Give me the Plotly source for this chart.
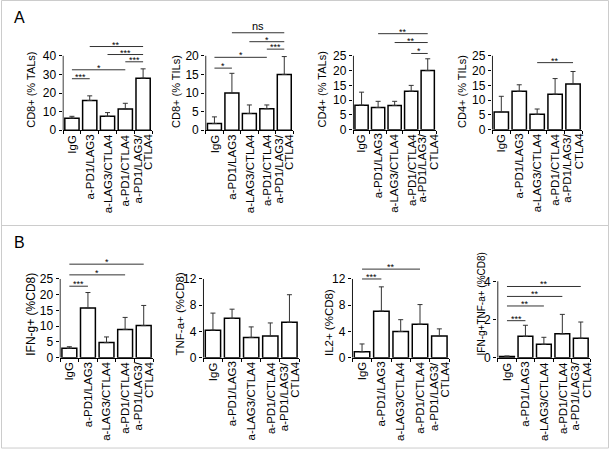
import plotly.graph_objects as go

# ---------------- data ----------------
groups = ["IgG", "a-PD1/LAG3", "a-LAG3/CTLA4", "a-PD1/CTLA4", "a-PD1/LAG3/<br>CTLA4"]

cd8_tal_mean = [6.5, 16.0, 7.5, 11.5, 28.0]
cd8_tal_err = [1.0, 2.5, 2.0, 3.0, 5.0]
cd8_til_mean = [1.8, 10.0, 4.5, 5.8, 15.0]
cd8_til_err = [1.8, 5.3, 2.3, 1.0, 4.8]
cd4_tal_mean = [8.3, 7.5, 8.2, 13.0, 20.0]
cd4_tal_err = [4.4, 2.1, 1.4, 2.0, 4.0]
cd4_til_mean = [6.0, 13.0, 5.2, 12.0, 15.5]
cd4_til_err = [5.3, 2.2, 1.8, 5.3, 4.2]
ifng_mean = [3.0, 15.8, 4.8, 9.0, 10.2]
ifng_err = [0.5, 4.9, 1.8, 3.8, 6.4]
tnfa_mean = [4.2, 6.0, 3.1, 3.3, 5.4]
tnfa_err = [2.6, 1.4, 1.6, 2.0, 4.2]
il2_mean = [0.9, 7.1, 4.0, 5.1, 3.3]
il2_err = [1.2, 3.7, 1.8, 3.0, 1.1]
dp_mean = [0.07, 1.12, 0.70, 1.25, 1.02]
dp_err = [0.02, 0.58, 0.37, 1.02, 0.85]

titles = ["CD8+ (% TALs)", "CD8+ (% TILs)", "CD4+ (% TALs)", "CD4+ (% TILs)",
          "IFN-g+ (%CD8)", "TNF-a+ (%CD8)", "IL2+ (%CD8)", "IFN-g+TNF-a+ (%CD8)"]

yticks = [[0, 10, 20, 30, 40], [0, 5, 10, 15, 20], [0, 5, 10, 15, 20, 25], [0, 5, 10, 15, 20, 25],
          [0, 5, 10, 15, 20, 25], [0, 4, 8, 12], [0, 4, 8, 12], [0, 2, 4]]

# significance comparisons: (group i, group j, bar height, label)
sig1 = [(0, 1, 27.7, "***"), (0, 3, 32.5, "*"), (3, 4, 36.8, "***"), (2, 4, 40.7, "***"), (1, 4, 45.0, "**")]
sig2 = [(0, 1, 16.7, "*"), (0, 3, 19.6, "*"), (3, 4, 21.8, "***"), (2, 4, 23.8, "*"), (1, 4, 26.2, "ns")]
sig3 = [(3, 4, 25.8, "*"), (2, 4, 29.5, "**"), (1, 4, 32.5, "**")]
sig4 = [(2, 4, 22.7, "**")]
sig5 = [(0, 1, 22.7, "***"), (0, 3, 26.3, "*"), (0, 4, 29.7, "*")]
sig6 = []
sig7 = [(0, 1, 12.0, "***"), (0, 3, 13.5, "**")]
sig8 = [(0, 1, 1.94, "***"), (0, 2, 2.71, "**"), (0, 3, 3.21, "**"), (0, 4, 3.73, "**")]

means = [cd8_tal_mean, cd8_til_mean, cd4_tal_mean, cd4_til_mean, ifng_mean, tnfa_mean, il2_mean, dp_mean]
errs = [cd8_tal_err, cd8_til_err, cd4_tal_err, cd4_til_err, ifng_err, tnfa_err, il2_err, dp_err]
sigs = [sig1, sig2, sig3, sig4, sig5, sig6, sig7, sig8]

# ---------------- layout geometry (pixels) ----------------
W, H = 610, 458
# x_left, x_right, y of zero, y of top tick, top of plot area, title offset, title size
geom = [
    (63.0, 152.0, 132.3, 56.7, 25, 31, 11),
    (205.7, 293.0, 132.3, 56.7, 25, 29, 11),
    (353.3, 436.0, 131.7, 56.7, 25, 31, 11),
    (492.3, 582.0, 131.7, 56.7, 25, 30, 11),
    (60.0, 153.0, 363.3, 283.3, 255, 28, 12),
    (203.3, 299.0, 363.3, 283.3, 255, 23, 11.5),
    (352.3, 449.0, 363.3, 283.3, 255, 23, 11.5),
    (497.7, 590.0, 363.3, 285.7, 255, 16, 10),
]

FONT = "Liberation Sans, Arial, sans-serif"
LBL = dict(family=FONT, size=11.5, color="black")
fig = go.Figure()
layout = {}
annotations = []
XMIN = -0.53

for k in range(8):
    n = k + 1
    xr = "x" if n == 1 else f"x{n}"
    yr = "y" if n == 1 else f"y{n}"
    xk = "xaxis" if n == 1 else f"xaxis{n}"
    yk = "yaxis" if n == 1 else f"yaxis{n}"
    x0, x1, yz, yt, ytop, toff, tsize = geom[k]
    tmax = yticks[k][-1]
    upp = tmax / (yz - yt)
    ymax = (yz - ytop) * upp
    xs = list(range(5))

    fig.add_trace(go.Bar(
        x=xs, y=means[k], width=0.8, xaxis=xr, yaxis=yr,
        marker=dict(color="white", line=dict(color="black", width=1.5)),
        error_y=dict(type="data", symmetric=False, array=errs[k], arrayminus=[0] * 5,
                     thickness=1, width=2.5, color="#333"),
        showlegend=False, hoverinfo="skip"))
    # y axis line, only up to top tick
    fig.add_trace(go.Scatter(x=[-0.5, -0.5], y=[0, tmax], mode="lines", xaxis=xr, yaxis=yr,
                             line=dict(color="black", width=1), showlegend=False, hoverinfo="skip"))
    for (i, j, h, lab) in sigs[k]:
        fig.add_trace(go.Scatter(x=[i, j], y=[h, h], mode="lines", xaxis=xr, yaxis=yr,
                                 line=dict(color="#333", width=1), showlegend=False, hoverinfo="skip"))
        annotations.append(dict(x=(i + j) / 2, y=h, xref=xr, yref=yr, text=lab, showarrow=False,
                                yanchor="bottom", yshift=(-5 if lab != "ns" else -1),
                                font=dict(family=FONT, size=(9 if lab != "ns" else 11), color="black")))
    # y axis title
    annotations.append(dict(x=0, xref=f"{xr} domain", xshift=-toff, xanchor="center",
                            y=0, yref=yr, yanchor="bottom", text=titles[k], textangle=-90,
                            showarrow=False, font=dict(family=FONT, size=tsize, color="black")))
    # category labels (rotated, centred on each bar; multi-line ones split into tight lines)
    for i, g in enumerate(groups):
        lines = g.split("<br>")
        nl = len(lines)
        for li, line in enumerate(lines):
            annotations.append(dict(x=i, xref=xr, y=0, yref=yr, yanchor="top", yshift=-2,
                                    xanchor="center", xshift=(li - (nl - 1) / 2) * 11,
                                    text=line, textangle=-90, showarrow=False, font=LBL))

    layout[xk] = dict(
        domain=[(x0 - 0.5) / W, x1 / W], range=[XMIN, 4.5], anchor=yr,
        showgrid=False, zeroline=False, showline=True, linecolor="black", linewidth=1,
        tickmode="array", tickvals=xs, showticklabels=False, ticks="",
        minor=dict(tickmode="array", tickvals=[-0.5, 0.5, 1.5, 2.5, 3.5, 4.5], ticks="outside",
                   ticklen=3, tickcolor="black", tickwidth=1, showgrid=False),
        fixedrange=True)
    layout[yk] = dict(
        domain=[1 - yz / H, 1 - ytop / H], range=[0, ymax], anchor=xr,
        showgrid=False, zeroline=False, showline=False,
        tickmode="array", tickvals=yticks[k], ticks="outside", ticklen=3, tickcolor="black",
        tickfont=dict(family=FONT, size=12, color="black"), fixedrange=True)

# panel letters
annotations.append(dict(x=19 / W, y=1 - 18 / H, xref="paper", yref="paper", text="A", showarrow=False,
                        xanchor="center", yanchor="middle", font=dict(family=FONT, size=16, color="black")))
annotations.append(dict(x=19 / W, y=1 - 246 / H, xref="paper", yref="paper", text="B", showarrow=False,
                        xanchor="center", yanchor="middle", font=dict(family=FONT, size=16, color="black")))

shapes = [
    dict(type="rect", xref="paper", yref="paper", x0=1.5 / W, x1=608.5 / W, y0=1 - 455 / H, y1=1 - 0.5 / H,
         line=dict(color="#cccccc", width=1)),
    dict(type="line", xref="paper", yref="paper", x0=1.5 / W, x1=608.5 / W, y0=1 - 229 / H, y1=1 - 229 / H,
         line=dict(color="#cccccc", width=1)),
]

fig.update_layout(width=W, height=H, autosize=False, margin=dict(l=0, r=0, t=0, b=0),
                  paper_bgcolor="white", plot_bgcolor="white", showlegend=False,
                  annotations=annotations, shapes=shapes, bargap=0.2,
                  font=dict(family=FONT, color="black"), **layout)

fig.write_html("out.html", config={"displayModeBar": False},
               post_script="document.documentElement.style.margin='0';document.body.style.margin='0';"
                           "document.body.style.overflow='hidden';")
